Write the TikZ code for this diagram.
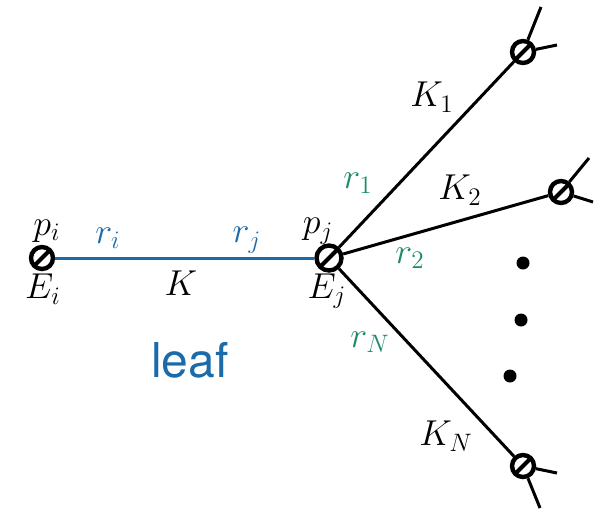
\documentclass[tikz,border=0pt]{standalone}
\usepackage{fontspec}
\usepackage{fix-cm}
\newfontfamily\leaffont{TeX Gyre Heros}
\usetikzlibrary{positioning,calc}
\definecolor{leafblue}{HTML}{1B6BAA}
\definecolor{rgreen}{HTML}{1E8A6C}

\begin{document}
\begin{tikzpicture}[x=0.5pt,y=-0.5pt,
      jn/.style={circle,draw=black,line width=2.2pt,fill=white,inner sep=0pt,minimum size=11pt,
        path picture={\draw[line width=2pt] (path picture bounding box.south west) -- (path picture bounding box.north east);}},
      br/.style={line width=1.5pt,black},
      lbl/.style={font=\fontsize{18}{21}\selectfont,inner sep=0pt},
      glbl/.style={lbl,text=rgreen},
      blbl/.style={lbl,text=leafblue},
      dot/.style={circle,fill=black,inner sep=0pt,minimum size=6.5pt}]
    \useasboundingbox (0,0) rectangle (598,509);
    % leaf edge
    \node[jn] (Ei) at (42,258) {};
    \node[jn,minimum size=12.5pt] (Ej) at (329,258) {};
    \draw[leafblue,line width=1.5pt] (Ei) -- (Ej);
    % branches
    \node[jn] (b1) at (523,52) {};
    \node[jn] (b2) at (561,192) {};
    \node[jn] (bN) at (523,466) {};
    \foreach \b in {b1,b2,bN} { \draw[br] (Ej) -- (\b); }
    \coordinate (b1u) at (541,7);   \coordinate (b1r) at (557,45);
    \coordinate (b2u) at (589,158); \coordinate (b2r) at (593,202);
    \coordinate (bNr) at (557,473); \coordinate (bNd) at (540,508);
    \foreach \b/\s in {b1/b1u,b1/b1r,b2/b2u,b2/b2r,bN/bNr,bN/bNd} { \draw[br] (\b) -- (\s); }
    \foreach \y/\x in {263/523,320/521,376/510} { \node[dot] at (\x,\y) {}; }
    % labels
    \node[lbl] (pi) at (47,231) {$p_i$};
    \node[lbl] (Eil) at (43,289) {$E_i$};
    \node[blbl] (ri) at (108,238) {$r_i$};
    \node[blbl] (rj) at (247,240) {$r_j$};
    \node[lbl] (K) at (181,283) {$K$};
    \node[lbl] (pj) at (318,231) {$p_j$};
    \node[lbl] (Ejl) at (327,291) {$E_j$};
    \node[glbl] (r1) at (358,183) {$r_1$};
    \node[glbl] (r2) at (410,258) {$r_2$};
    \node[glbl] (rN) at (370,342) {$r_N$};
    \node[lbl] (K1) at (432,97) {$K_1$};
    \node[lbl] (K2) at (460,190) {$K_2$};
    \node[lbl] (KN) at (446,436) {$K_N$};
    \node[text=leafblue,font=\leaffont\fontsize{24}{28}\selectfont] (leaf) at (190,360) {leaf};
  \end{tikzpicture}
\end{document}
